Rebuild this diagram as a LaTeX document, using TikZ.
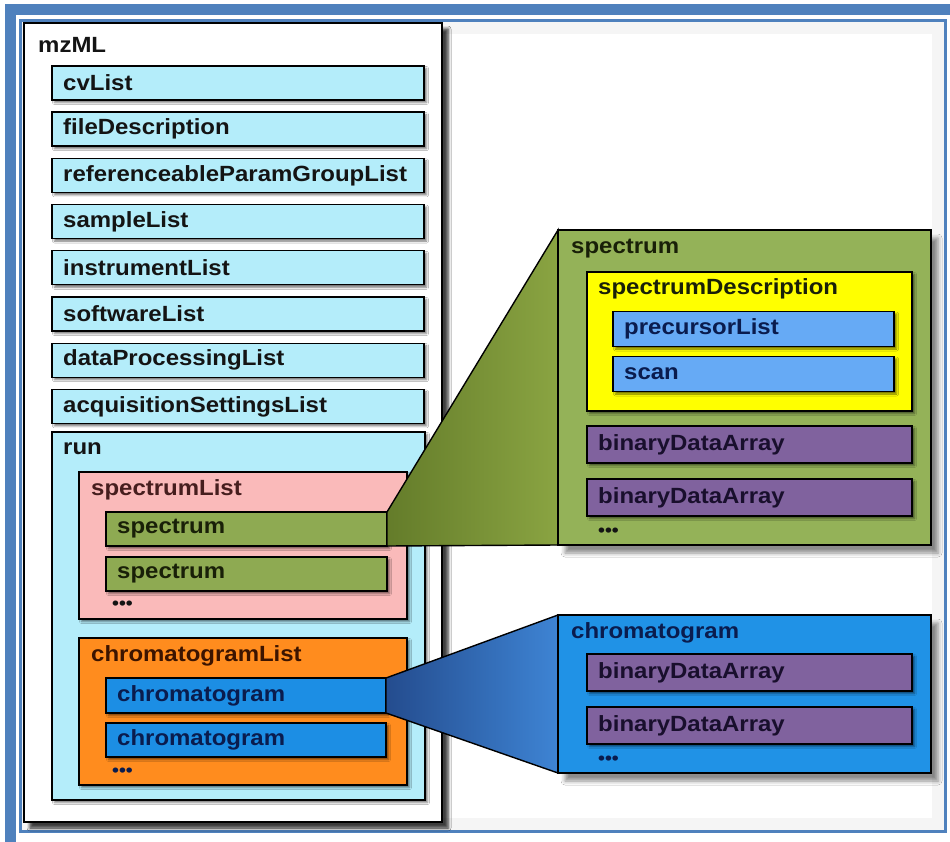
\documentclass[tikz,border=0pt]{standalone}
\usepackage{fontspec}
\newfontfamily\lblfam{Liberation Sans}[FakeStretch=1.09]
\usetikzlibrary{shadows.blur}
\definecolor{framecol}{RGB}{79,129,189}
\definecolor{ltblue}{RGB}{180,237,250}
\definecolor{pinkc}{RGB}{250,186,186}
\definecolor{greenc}{RGB}{142,170,82}
\definecolor{greenbig}{RGB}{148,178,88}
\definecolor{orangec}{RGB}{255,140,30}
\definecolor{bluec}{RGB}{28,142,228}
\definecolor{bluebig}{RGB}{32,146,230}
\definecolor{yellowc}{RGB}{255,255,0}
\definecolor{precc}{RGB}{102,170,245}
\definecolor{purplec}{RGB}{128,98,158}
\definecolor{olivedark}{RGB}{100,124,42}
\definecolor{olivelight}{RGB}{138,164,66}
\definecolor{wbluedark}{RGB}{36,76,142}
\definecolor{wbluelight}{RGB}{62,132,212}
\definecolor{txblack}{RGB}{20,20,20}
\definecolor{txnavy}{RGB}{10,28,78}
\definecolor{txmaroon}{RGB}{70,30,30}
\definecolor{txbrown}{RGB}{60,20,0}
\definecolor{txgreen}{RGB}{25,32,8}
\definecolor{txpurple}{RGB}{25,15,45}
\tikzset{
  bx/.style={draw=black, line width=1.4pt, rectangle, inner sep=0pt, outer sep=0pt, anchor=north west,
    blur shadow={shadow xshift=2.5pt, shadow yshift=-2.5pt, shadow blur radius=2pt, shadow opacity=55}},
  bigbx/.style={draw=black, line width=1.6pt, rectangle, inner sep=0pt, outer sep=0pt, anchor=north west,
    blur shadow={shadow xshift=7pt, shadow yshift=-8pt, shadow blur radius=4pt, shadow opacity=45}},
  lbl/.style={anchor=west, inner sep=0pt, font=\lblfam\bfseries\fontsize{22}{26}\selectfont},
  dots/.style={anchor=west, inner sep=0pt, font=\lblfam\bfseries\fontsize{18}{20}\selectfont},
}
% name, x, y, w, h, fill, textcolor, text
\newcommand\mybox[8]{%
  \node[bx, fill=#6, minimum width=#4pt, minimum height=#5pt] (#1) at (#2,#3) {};
  \node[lbl, text=#7] (#1t) at ([xshift=11pt]#1.west) {#8};}
\begin{document}
\begin{tikzpicture}[x=1pt,y=-1pt]
\useasboundingbox (0,0) rectangle (950,842);
\clip (0,0) rectangle (950,842);
\fill[white] (0,0) rectangle (950,842);
% frame
\draw[framecol, line width=11pt] (10,9.5) rectangle (962,848);
\draw[framecol, line width=3pt] (20.5,20.5) rectangle (945.5,831.5);
% inset shadow
\foreach \i in {0,...,11} {
  \draw[black, opacity=0.04, line width=1pt] ({22.5+\i},{22.5+\i}) rectangle ({943.5-\i},{829.5-\i});
}
% mzML
\node[bigbx, fill=white, minimum width=418pt, minimum height=799pt,
  blur shadow={shadow xshift=6pt, shadow yshift=-6pt, shadow blur radius=3pt, shadow opacity=50}] (mzml) at (24,23) {};
\node[lbl, text=txblack] (mzmlt) at (38,45) {mzML};
\mybox{cv}{52}{66}{372}{34}{ltblue}{txblack}{cvList}
\mybox{fd}{52}{112.2}{372}{34}{ltblue}{txblack}{fileDescription}
\mybox{rpg}{52}{158.4}{372}{34}{ltblue}{txblack}{referenceableParamGroupList}
\mybox{sl}{52}{204.6}{372}{34}{ltblue}{txblack}{sampleList}
\mybox{il}{52}{250.8}{372}{34}{ltblue}{txblack}{instrumentList}
\mybox{swl}{52}{297}{372}{34}{ltblue}{txblack}{softwareList}
\mybox{dpl}{52}{343.2}{372}{34}{ltblue}{txblack}{dataProcessingList}
\mybox{asl}{52}{389.4}{372}{34}{ltblue}{txblack}{acquisitionSettingsList}
% run
\node[bx, fill=ltblue, minimum width=373pt, minimum height=368pt] (run) at (52,432) {};
\node[lbl, text=txblack] (runt) at (63,449) {run};
% spectrumList
\node[bx, fill=pinkc, minimum width=328pt, minimum height=147pt] (spl) at (79,472) {};
\node[lbl, text=txmaroon] (splt) at (91,490) {spectrumList};
\mybox{sp1}{106}{512}{281}{34}{greenc}{txgreen}{spectrum}
\mybox{sp2}{106}{557}{281}{34}{greenc}{txgreen}{spectrum}
\node[dots, text=txblack] (spdots) at (112,605) {•••};
% chromatogramList
\node[bx, fill=orangec, minimum width=328pt, minimum height=147pt] (chl) at (79,638) {};
\node[lbl, text=txbrown] (chlt) at (91,656) {chromatogramList};
\mybox{ch1}{106}{678}{280}{35}{bluec}{txnavy}{chromatogram}
\mybox{ch2}{106}{723}{280}{34}{bluec}{txnavy}{chromatogram}
\node[dots, text=txnavy] (chdots) at (112,772) {•••};
% expanded spectrum
\coordinate (spbigNW) at (558,230);
\coordinate (spbigSW) at (558,545);
\draw[black, line width=1.4pt, left color=olivedark, right color=olivelight]
  (sp1.north east) -- (spbigNW) -- (spbigSW) -- (sp1.south east) -- cycle;
\node[bigbx, fill=greenbig, minimum width=373pt, minimum height=315pt] (spbig) at (spbigNW) {};
\node[lbl, text=txgreen] (spbigt) at (571,249) {spectrum};
\node[bx, fill=yellowc, minimum width=325pt, minimum height=139pt] (sd) at (587,272) {};
\node[lbl, text=txgreen] (sdt) at (598,289) {spectrumDescription};
\mybox{pl}{613}{311.5}{281}{35}{precc}{txnavy}{precursorList}
\mybox{scan}{613}{356.5}{281}{35}{precc}{txnavy}{scan}
\mybox{bda1}{587}{426}{325}{37}{purplec}{txpurple}{binaryDataArray}
\mybox{bda2}{587}{479}{325}{37}{purplec}{txpurple}{binaryDataArray}
\node[dots, text=txblack] (sbdots) at (598,532) {•••};
% expanded chromatogram
\coordinate (chbigNW) at (558,615);
\coordinate (chbigSW) at (558,773);
\draw[black, line width=1.4pt, left color=wbluedark, right color=wbluelight]
  (ch1.north east) -- (chbigNW) -- (chbigSW) -- (ch1.south east) -- cycle;
\node[bigbx, fill=bluebig, minimum width=373pt, minimum height=158pt] (chbig) at (chbigNW) {};
\node[lbl, text=txnavy] (chbigt) at (571,633) {chromatogram};
\mybox{cbda1}{587}{654}{325}{37}{purplec}{txpurple}{binaryDataArray}
\mybox{cbda2}{587}{707}{325}{37}{purplec}{txpurple}{binaryDataArray}
\node[dots, text=txnavy] (cbdots) at (598,760) {•••};
\end{tikzpicture}
\end{document}
